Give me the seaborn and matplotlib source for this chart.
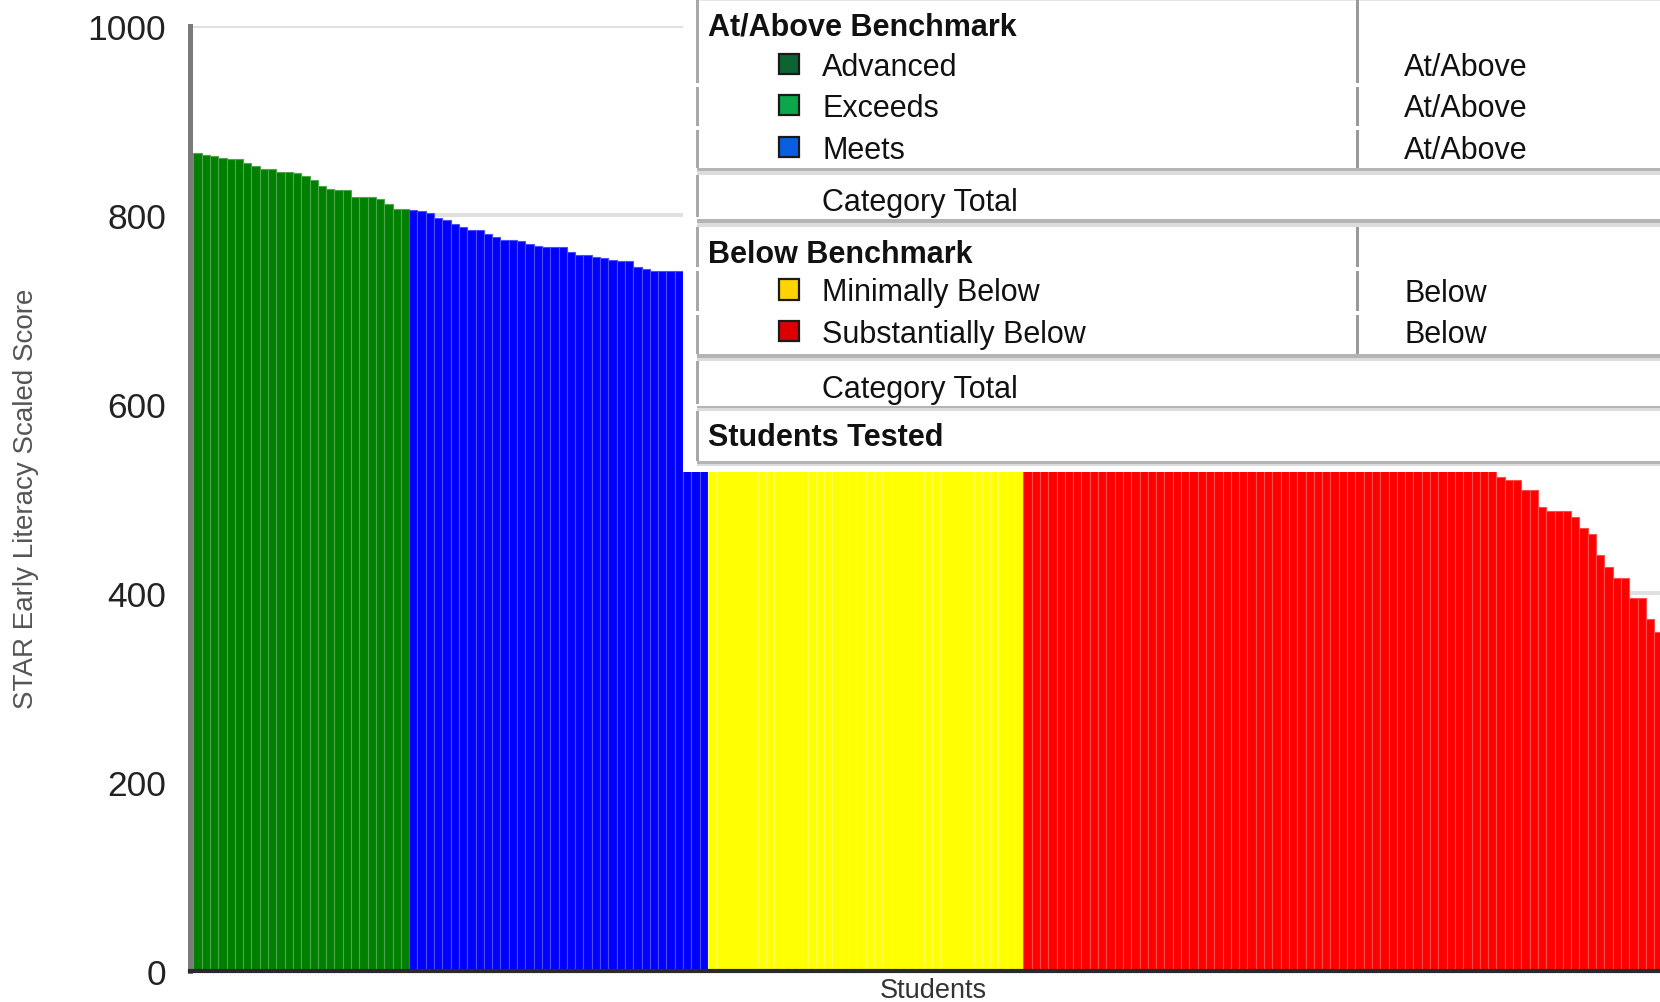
import seaborn as sns
import matplotlib.pyplot as plt
import matplotlib.colors as mcolors
from matplotlib.patches import Rectangle
import pandas as pd

# scores per group, sorted high to low (the hidden ones sit under the table)
green_scores = [866, 863, 862, 860, 859, 859, 855, 852, 849, 849, 845, 845, 844,
                841, 837, 831, 827, 826, 826, 819, 819, 819, 817, 812, 806, 806]
blue_scores = [805, 804, 802, 797, 795, 790, 787, 784, 784, 780, 777, 774, 774,
               773, 769, 767, 766, 766, 766, 761, 758, 758, 756, 755, 752, 751,
               751, 745, 743, 741, 741, 741, 741, 740, 740, 739]
yellow_scores = [738, 736, 734, 733, 731, 729, 727, 726, 724, 722, 720, 719, 717,
                 715, 713, 712, 710, 708, 706, 704, 703, 701, 699, 697, 696, 694,
                 692, 690, 689, 687, 685, 683, 681, 680, 678, 676, 674, 672]
red_scores = [668, 665, 663, 660, 658, 655, 653, 650, 648, 645, 643, 640, 638,
              636, 633, 631, 628, 626, 623, 621, 618, 616, 613, 611, 608, 606,
              604, 601, 599, 596, 594, 591, 589, 586, 584, 581, 579, 576, 574,
              572, 569, 567, 564, 562, 559, 557, 554, 552, 549, 547, 544, 542,
              539, 537, 534, 532, 529,
              523, 520, 520, 509, 509, 491, 487, 487, 487, 480, 469, 462, 440,
              427, 416, 416, 395, 395, 373, 359]

group_names = ["Exceeds", "Meets", "Minimally Below", "Substantially Below"]
bar_colors = ["#008000", "#0000ff", "#ffff00", "#ff0000"]
y_ticks = [0, 200, 400, 600, 800, 1000]

# legend table content
header_rows = ["At/Above Benchmark", "Below Benchmark", "Students Tested"]
legend_labels = ["Advanced", "Exceeds", "Meets", "Minimally Below", "Substantially Below"]
legend_colors = ["#0b6432", "#0aa84a", "#0a5ee0", "#ffd400", "#dd0000"]
legend_status = ["At/Above", "At/Above", "At/Above", "Below", "Below"]
total_label = "Category Total"

W, H = 1660, 1003

sns.set_style("white")
plt.rcParams["font.family"] = ["Liberation Sans", "DejaVu Sans"]

groups = [green_scores, blue_scores, yellow_scores, red_scores]
scores, levels = [], []
for name, vals in zip(group_names, groups):
    scores += vals
    levels += [name] * len(vals)
df = pd.DataFrame({"student": range(len(scores)), "score": scores, "level": levels})

fig = plt.figure(figsize=(W / 100, H / 100), dpi=100)
ax = fig.add_axes([189.5 / W, 1 - 972 / H, (W - 189.5) / W, (972 - 27) / H])

sns.barplot(data=df, x="student", y="score", hue="level", hue_order=group_names,
            palette=bar_colors, native_scale=True, width=1, dodge=False,
            saturation=1, legend=False, ax=ax)

# light bar edges give the striped look
for p in ax.patches:
    fc = mcolors.to_rgb(p.get_facecolor())
    light = tuple(c + (1 - c) * 0.3 for c in fc)
    p.set_edgecolor(light)
    p.set_linewidth(0.8)

ax.set_xlim(-0.96, 176.2)
ax.set_ylim(0, 1000)
ax.set_yticks(y_ticks)
ax.set_xticks([])
ax.set_xlabel("")
ax.set_ylabel("")
ax.yaxis.grid(True, color="#e0e0e0", lw=2.9)
ax.set_axisbelow(True)
ax.tick_params(axis="y", length=12, width=2.9, color="#bbbbbb", labelsize=25.5,
               pad=5, labelcolor="#222222")
for s in ["top", "right"]:
    ax.spines[s].set_visible(False)
ax.spines["left"].set_color("#7a7a7a")
ax.spines["left"].set_linewidth(3.6)
ax.spines["bottom"].set_color("#2a2a2a")
ax.spines["bottom"].set_linewidth(3)

fig.text(26 / W, 1 - 499 / H, "STAR Early Literacy Scaled Score", rotation=90,
         ha="center", va="center", fontsize=20, color="#555555")
fig.text(933 / W, 1 - 991 / H, "Students", ha="center", va="center",
         fontsize=19.5, color="#333333")


# ---- legend table drawn in pixel coords (top-left origin) ----
def rect(x0, y0, x1, y1, color, ec="none", lw=0, z=5):
    fig.add_artist(Rectangle((x0 / W, 1 - y1 / H), (x1 - x0) / W, (y1 - y0) / H,
                             transform=fig.transFigure, facecolor=color,
                             edgecolor=ec, linewidth=lw, zorder=z))


def txt(x, base, s, bold=False):
    fig.text(x / W, 1 - base / H, s, ha="left", va="baseline", fontsize=22,
             fontweight="bold" if bold else "normal", color="#111111", zorder=7)


rect(683, -5, W + 5, 473, "white", z=4)

for y0, y1 in [(169, 176), (220, 228), (355, 362), (407, 412), (462, 467)]:
    mid = (y0 + y1) / 2
    rect(697, y0, W + 5, mid, "#b4b4b4")
    rect(697, mid, W + 5, y1, "#dcdcdc")
rect(697, 0, W + 5, 2, "#e6e6e6")

for y0, y1 in [(0, 84), (88, 127), (131, 169), (176, 218), (228, 268),
               (272, 312), (316, 355), (362, 405), (412, 462)]:
    rect(696, y0, 699, y1, "#a8a8a8")
for y0, y1 in [(0, 84), (88, 127), (131, 169), (228, 268), (272, 312), (316, 355)]:
    rect(1355.5, y0, 1358.5, y1, "#9a9a9a")

txt(708, 35, header_rows[0], bold=True)
txt(708, 263, header_rows[1], bold=True)
txt(708, 446.5, header_rows[2], bold=True)
txt(822, 210.5, total_label)
txt(822, 398, total_label)

row_bases = [75.5, 117, 159, 301.5, 343]
for base, lab, col, stat in zip(row_bases, legend_labels, legend_colors, legend_status):
    rect(779, base - 21, 799, base - 1, col, ec="#1a1a1a", lw=1.6, z=6)
    txt(822, base, lab)
    txt(1404, base, stat)

fig.savefig("out.png", dpi=100)
